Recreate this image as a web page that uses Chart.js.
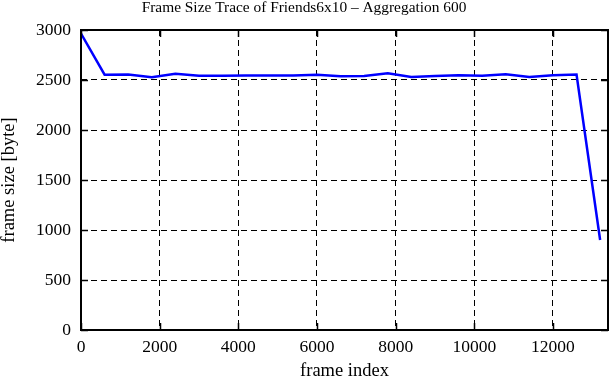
<!DOCTYPE html>
<html>
<head>
<meta charset="utf-8">
<script src="https://cdn.jsdelivr.net/npm/chart.js@4"></script>
<style>
html,body{margin:0;padding:0;background:#fff;}
#wrap{width:611px;height:380px;position:relative;}
</style>
</head>
<body>
<div id="wrap"><canvas id="c" width="611" height="380"></canvas></div>
<script>
const chartTitle = "Frame Size Trace of Friends6x10 – Aggregation 600";
const xAxisTitle = "frame index";
const yAxisTitle = "frame size [byte]";
const frameIndex = [0,600,1200,1800,2400,3000,3600,4200,4800,5400,6000,6600,7200,7800,8400,9000,9600,10200,10800,11400,12000,12600,13200];
const frameSize  = [2965,2553,2555,2528,2562,2542,2543,2545,2545,2545,2552,2537,2540,2568,2530,2540,2547,2543,2557,2530,2547,2555,900];
const xTicks = [0,2000,4000,6000,8000,10000,12000];
const yTicks = [0,500,1000,1500,2000,2500,3000];
const xMax = 13400;
const yMax = 3000;

const serif = "'Liberation Serif','Times New Roman',serif";

const framePlugin = {
  id: 'frame',
  afterDatasetsDraw(chart) {
    const {ctx, chartArea: a, scales} = chart;
    ctx.save();
    ctx.strokeStyle = '#000';
    ctx.lineWidth = 1.5;
    ctx.beginPath();
    const tl = 7;
    xTicks.forEach(v => {
      const px = Math.round(scales.x.getPixelForValue(v)) + 0.5;
      ctx.moveTo(px, a.bottom); ctx.lineTo(px, a.bottom - tl);
      ctx.moveTo(px, a.top); ctx.lineTo(px, a.top + tl);
    });
    yTicks.forEach(v => {
      const py = Math.round(scales.y.getPixelForValue(v)) + 0.5;
      ctx.moveTo(a.left, py); ctx.lineTo(a.left + tl, py);
      ctx.moveTo(a.right, py); ctx.lineTo(a.right - tl, py);
    });
    ctx.stroke();
    ctx.lineWidth = 2;
    ctx.strokeRect(a.left, a.top, a.right - a.left, a.bottom - a.top);
    ctx.restore();
  }
};

new Chart(document.getElementById('c'), {
  type: 'line',
  data: {
    datasets: [{
      data: frameIndex.map((x, i) => ({x: x, y: frameSize[i]})),
      borderColor: '#0000ff',
      borderWidth: 2.5,
      pointRadius: 0,
      tension: 0,
      fill: false
    }]
  },
  options: {
    responsive: false,
    animation: false,
    layout: {padding: {left: 0, right: 3, top: 0, bottom: 0}},
    plugins: {
      legend: {display: false},
      tooltip: {enabled: false},
      title: {
        display: true,
        text: chartTitle,
        color: '#000',
        font: {family: serif, size: 15.4, weight: 'normal', lineHeight: 1},
        padding: {top: 0, bottom: 14.6}
      }
    },
    scales: {
      x: {
        type: 'linear',
        min: 0,
        max: xMax,
        afterBuildTicks: s => { s.ticks = xTicks.map(v => ({value: v})); },
        afterFit: s => { s.height = 50; },
        ticks: {
          color: '#000',
          font: {family: serif, size: 17.5},
          padding: 7,
          maxRotation: 0,
          callback: v => String(v)
        },
        grid: {color: '#000', lineWidth: 1, drawTicks: false},
        border: {display: false, dash: [6, 4]},
        title: {
          display: true,
          text: xAxisTitle,
          color: '#000',
          font: {family: serif, size: 18.5, lineHeight: 1},
          padding: {top: 0, bottom: 0}
        }
      },
      y: {
        type: 'linear',
        min: 0,
        max: yMax,
        afterBuildTicks: s => { s.ticks = yTicks.map(v => ({value: v})); },
        afterFit: s => { s.width = 81; },
        ticks: {
          color: '#000',
          font: {family: serif, size: 17.5},
          padding: 10,
          callback: v => String(v)
        },
        grid: {color: '#000', lineWidth: 1, drawTicks: false},
        border: {display: false, dash: [6, 4]},
        title: {
          display: true,
          text: yAxisTitle,
          color: '#000',
          font: {family: serif, size: 18.5, lineHeight: 1},
          padding: {top: 0, bottom: 0}
        }
      }
    }
  },
  plugins: [framePlugin]
});
</script>
</body>
</html>
